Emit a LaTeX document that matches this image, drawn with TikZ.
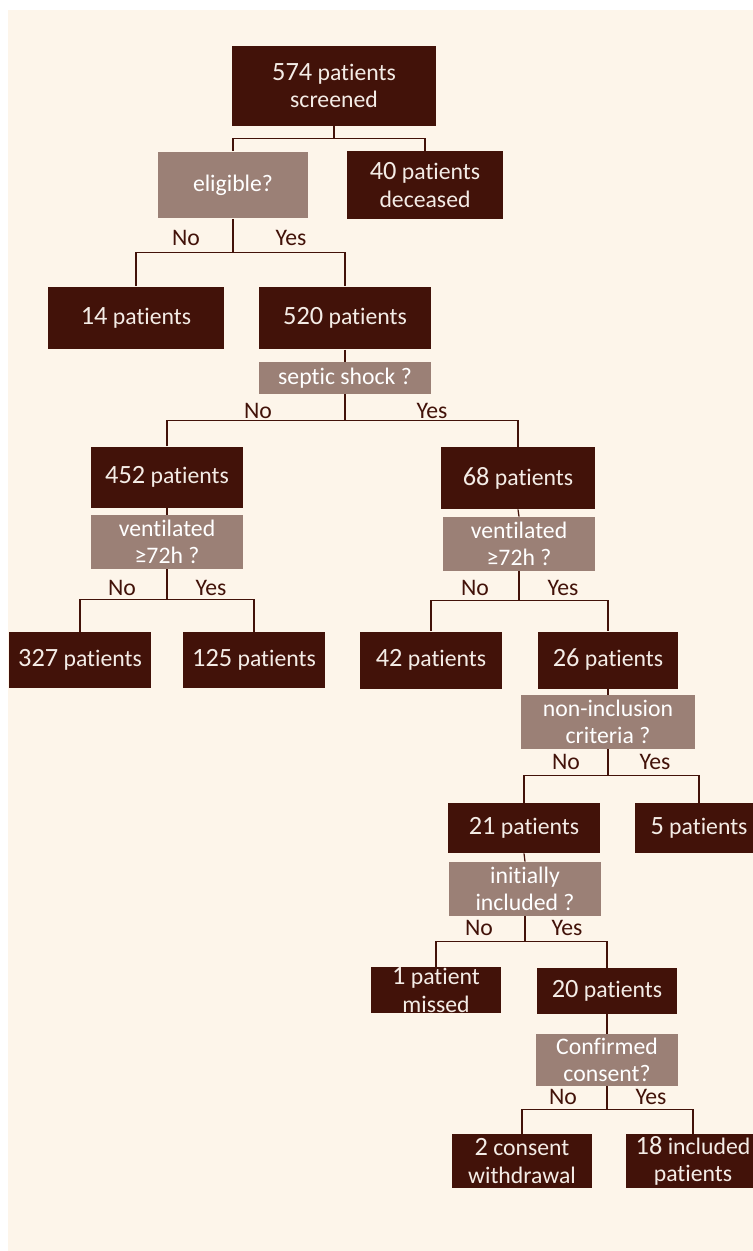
\documentclass[tikz,border=0pt]{standalone}
\usepackage{fontspec}
\setmainfont[Ligatures=NoCommon]{Carlito}
\usepackage{tikz}
\usetikzlibrary{positioning, calc}
\definecolor{flowBg}{HTML}{FDF5EA}
\definecolor{flowDark}{HTML}{421209}
\definecolor{flowGrey}{HTML}{9B8076}
\definecolor{flowText}{HTML}{F4ECE6}
\newcommand{\cnt}[1]{{\fontsize{15}{15.5}\selectfont #1}}

\tikzset{
  darkbox/.style={fill=flowDark, text=flowText, align=center, inner sep=0pt},
  greybox/.style={fill=flowGrey, text=white, align=center, inner sep=0pt},
  link/.style={draw=flowDark, line width=0.7pt},
  answer/.style={text=flowDark, inner sep=0pt}
}

\begin{document}
\begin{tikzpicture}[x=0.02cm, y=-0.02cm, font=\fontsize{13.5}{15.5}\selectfont]
        \useasboundingbox (0,0) rectangle (753,1251);
        \fill[flowBg] (8,10) rectangle (753,1251);
        % screening
        \node[darkbox, minimum width=4.08cm, minimum height=1.6cm] (screened) at (334,86) {\cnt{574} patients\\screened};
        \node[greybox, minimum width=3.0cm, minimum height=1.34cm] (eligible) at (233,185) {eligible?};
        \node[darkbox, minimum width=3.14cm, minimum height=1.36cm] (deceased) at (425,185) {\cnt{40} patients\\deceased};
        \draw[link] (screened.south) -- ++(0,12) coordinate (jScr);
        \draw[link] (eligible.north) |- (jScr) -| (deceased.north);
        % eligibility
        \node[darkbox, minimum width=3.52cm, minimum height=1.26cm] (n14) at (136,318) {\cnt{14} patients};
        \node[darkbox, minimum width=3.44cm, minimum height=1.26cm] (n520) at (345,318) {\cnt{520} patients};
        \draw[link] (eligible.south) -- ++(0,34) coordinate (jElig);
        \draw[link] (n14.north) |- (jElig) -| (n520.north);
        \node[answer] at (186,238) {No};
        \node[answer] at (291,238) {Yes};
        % septic shock
        \node[greybox, minimum width=3.44cm, minimum height=0.64cm] (septic) at (345,378) {septic shock ?};
        \draw[link] (n520.south) -- (septic.north);
        \node[darkbox, minimum width=3.06cm, minimum height=1.22cm] (n452) at (167,477) {\cnt{452} patients};
        \node[darkbox, minimum width=3.08cm, minimum height=1.24cm] (n68) at (518,478) {\cnt{68} patients};
        \draw[link] (septic.south) -- ++(0,26) coordinate (jSep);
        \draw[link] (n452.north) |- (jSep) -| (n68.north);
        \node[answer] at (258,411) {No};
        \node[answer] at (432,411) {Yes};
        % ventilation, no shock
        \node[greybox, minimum width=3.06cm, minimum height=1.08cm] (ventA) at (167,542) {ventilated\\≥72h ?};
        \draw[link] (n452.south) -- (ventA.north);
        \node[darkbox, minimum width=2.84cm, minimum height=1.12cm] (n327) at (80,660) {\cnt{327} patients};
        \node[darkbox, minimum width=2.84cm, minimum height=1.12cm] (n125) at (254,660) {\cnt{125} patients};
        \draw[link] (ventA.south) -- ++(0,30) coordinate (jVentA);
        \draw[link] (n327.north) |- (jVentA) -| (n125.north);
        \node[answer] at (122,588) {No};
        \node[answer] at (211,588) {Yes};
        % ventilation, shock
        \node[greybox, minimum width=3.04cm, minimum height=1.08cm] (ventB) at (519,544) {ventilated\\≥72h ?};
        \draw[link] (n68.south) -- (ventB.north);
        \node[darkbox, minimum width=2.84cm, minimum height=1.14cm] (n42) at (431,660) {\cnt{42} patients};
        \node[darkbox, minimum width=2.82cm, minimum height=1.14cm] (n26) at (608,660) {\cnt{26} patients};
        \draw[link] (ventB.south) -- ++(0,29) coordinate (jVentB);
        \draw[link] (n42.north) |- (jVentB) -| (n26.north);
        \node[answer] at (475,588) {No};
        \node[answer] at (563,588) {Yes};
        % non-inclusion
        \node[greybox, minimum width=3.5cm, minimum height=1.08cm] (noninc) at (608,722) {non-inclusion\\criteria ?};
        \draw[link] (n26.south) -- (noninc.north);
        \node[darkbox, minimum width=3.04cm, minimum height=1.0cm] (n21) at (524,828) {\cnt{21} patients};
        \node[darkbox, minimum width=2.56cm, minimum height=1.0cm] (n5) at (699,828) {\cnt{5} patients};
        \draw[link] (noninc.south) -- ++(0,26) coordinate (jNon);
        \draw[link] (n21.north) |- (jNon) -| (n5.north);
        \node[answer] at (566,762) {No};
        \node[answer] at (655,762) {Yes};
        % initial inclusion
        \node[greybox, minimum width=3.04cm, minimum height=1.08cm] (initial) at (525,889) {initially\\included ?};
        \draw[link] (n21.south) -- (initial.north);
        \node[darkbox, minimum width=2.62cm, minimum height=0.92cm] (missed) at (436,990) {\cnt{1} patient\\missed};
        \node[darkbox, minimum width=2.82cm, minimum height=0.92cm] (n20) at (607,991) {\cnt{20} patients};
        \draw[link] (initial.south) -- ++(0,25) coordinate (jIni);
        \draw[link] (missed.north) |- (jIni) -| (n20.north);
        \node[answer] at (479,928) {No};
        \node[answer] at (567,928) {Yes};
        % consent
        \node[greybox, minimum width=2.86cm, minimum height=1.04cm] (consent) at (607,1060) {Confirmed\\consent?};
        \draw[link] (n20.south) -- (consent.north);
        \node[darkbox, minimum width=2.82cm, minimum height=1.08cm] (withdraw) at (522,1161) {\cnt{2} consent\\withdrawal};
        \node[darkbox, minimum width=2.68cm, minimum height=1.08cm] (n18) at (693,1161) {\cnt{18} included\\patients};
        \draw[link] (consent.south) -- ++(0,23) coordinate (jCon);
        \draw[link] (withdraw.north) |- (jCon) -| (n18.north);
        \node[answer] at (563,1097) {No};
        \node[answer] at (651,1097) {Yes};
      \end{tikzpicture}
\end{document}
